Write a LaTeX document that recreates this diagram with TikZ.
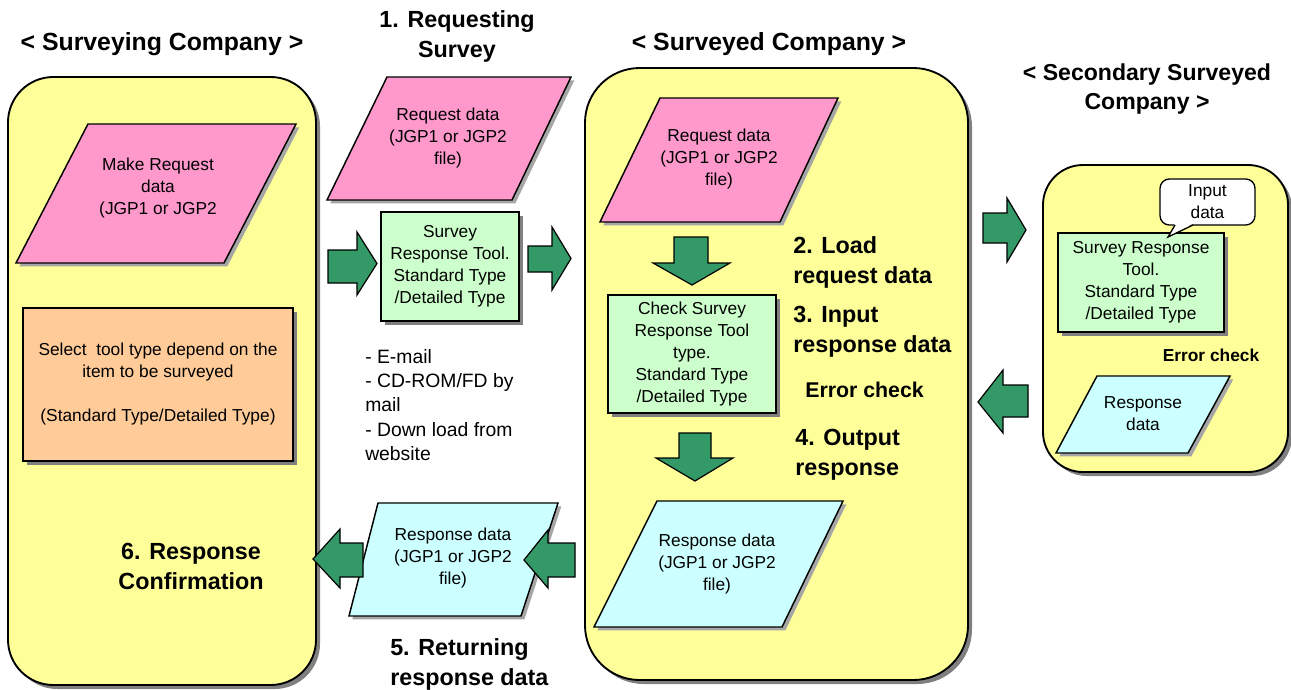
\documentclass[tikz,border=0pt]{standalone}
\usepackage{fontspec}
\setmainfont{Liberation Sans}
\usetikzlibrary{shadows}

\definecolor{companyyellow}{HTML}{FFFF99}
\definecolor{reqpink}{HTML}{FF99CC}
\definecolor{toolgreen}{HTML}{CCFFCC}
\definecolor{respcyan}{HTML}{CCFFFF}
\definecolor{selorange}{HTML}{FFCC99}
\definecolor{arrowgreen}{HTML}{339966}

\tikzset{
  company/.style={draw=black, line width=1.4pt, fill=companyyellow,
    drop shadow={shadow xshift=3pt, shadow yshift=-3pt, opacity=1, fill=black!50}},
  datashape/.style={draw=black, line width=1.1pt, line join=miter,
    drop shadow={shadow xshift=2.5pt, shadow yshift=-2.5pt, opacity=1, fill=black!35}},
  toolbox/.style={draw=black, line width=1.1pt, fill=toolgreen, align=center, inner sep=0pt,
    font=\fontsize{13}{16.5}\selectfont,
    drop shadow={shadow xshift=3pt, shadow yshift=-3pt, opacity=1, fill=black!50}},
  blockarrow/.style={draw=black, line width=0.9pt, fill=arrowgreen, line join=miter},
  txt/.style={align=center, inner sep=0pt, font=\fontsize{13}{16.5}\selectfont},
  heading/.style={inner sep=0pt, anchor=base, font=\fontsize{18.6}{23}\selectfont\bfseries},
  steplabel/.style={inner sep=0pt, anchor=west, align=left, font=\fontsize{17.5}{22.5}\selectfont\bfseries}
}

\begin{document}
\begin{tikzpicture}[x=0.75pt, y=-0.75pt]
  \useasboundingbox (0,0) rectangle (1291,689);
  \fill[white] (0,0) rectangle (1291,689);

  % the three companies
  \filldraw[company, rounded corners=34pt] (8,77) rectangle (316,685);
  \filldraw[company, rounded corners=41pt] (585,68) rectangle (968,680);
  \filldraw[company, rounded corners=30pt] (1043,165) rectangle (1288,472);

  \node[heading] (hsurveying) at (162,50) {< Surveying Company >};
  \node[heading] (hsurveyed) at (769,50) {< Surveyed Company >};
  \node[heading, anchor=center, align=center, font=\fontsize{17.3}{21.75}\selectfont\bfseries] (hsecondary) at (1147,89) {< Secondary Surveyed\\Company >};

  % surveying company
  \filldraw[datashape, fill=reqpink] (88,124) -- (296,124) -- (224,263) -- (16,263) -- cycle;
  \node[txt] (makereq) at (158,188) {Make Request\\data\\(JGP1 or JGP2};
  \node[toolbox, fill=selorange, minimum width=202.5pt, minimum height=114.75pt] (select) at (158,384.5)
    {Select~ tool type depend on the\\item to be surveyed\\\mbox{}\\(Standard Type/Detailed Type)};
  \node[steplabel, anchor=center, align=center] (confirm) at (191,566) {6. Response\\Confirmation};

  % requesting survey
  \node[steplabel, anchor=center, align=center] (requesting) at (457,36) {1. Requesting\\Survey};
  \filldraw[datashape, fill=reqpink] (387,77) -- (571,77) -- (512,200) -- (327,200) -- cycle;
  \node[txt] (reqsent) at (448,138) {Request data\\(JGP1 or JGP2\\file)};
  \node[toolbox, minimum width=103.5pt, minimum height=81.75pt] (tool) at (450,266.5)
    {Survey\\Response Tool.\\Standard Type\\/Detailed Type};
  \filldraw[blockarrow] (328,250) -- (357,250) -- (357,232) -- (377,263.5) -- (357,295) -- (357,283) -- (328,283) -- cycle;
  \filldraw[blockarrow] (528,246) -- (552,246) -- (552,227) -- (571,258.5) -- (552,290) -- (552,272) -- (528,272) -- cycle;
  \node[inner sep=0pt, anchor=west, align=left, font=\fontsize{14.5}{18.2}\selectfont] (channels) at (365,405)
    {- E-mail\\- CD-ROM/FD by\\mail\\- Down load from\\website};

  % returning response data
  \filldraw[datashape, fill=respcyan] (378,503) -- (558,503) -- (521,616) -- (349,616) -- cycle;
  \node[txt] (respsent) at (453,558) {Response data\\(JGP1 or JGP2\\file)};
  \filldraw[blockarrow] (363,543) -- (340,543) -- (340,529) -- (313,559) -- (340,588) -- (340,577) -- (363,577) -- cycle;
  \filldraw[blockarrow] (575,543) -- (548,543) -- (548,530) -- (524,560) -- (548,588) -- (548,577) -- (575,577) -- cycle;
  \node[steplabel] (returning) at (390,664) {5. Returning\\response data};

  % surveyed company
  \filldraw[datashape, fill=reqpink] (660,98) -- (838,98) -- (780,222) -- (600,222) -- cycle;
  \node[txt] (reqload) at (719,159) {Request data\\(JGP1 or JGP2\\file)};
  \filldraw[blockarrow] (674,237) -- (708,237) -- (708,263) -- (730,263) -- (692,285) -- (653,263) -- (674,263) -- cycle;
  \node[toolbox, minimum width=126pt, minimum height=88.5pt] (check) at (692,354)
    {Check Survey\\Response Tool\\type.\\Standard Type\\/Detailed Type};
  \node[steplabel] (load) at (793,262) {2. Load\\request data};
  \node[steplabel] (input) at (793,332) {3. Input\\response data};
  \node[steplabel, font=\fontsize{16}{20}\selectfont\bfseries] (errmid) at (805,390) {Error check};
  \node[steplabel] (output) at (795,455) {4. Output\\response};
  \filldraw[blockarrow] (679,433) -- (711,433) -- (711,458) -- (733,458) -- (695,481) -- (656,458) -- (679,458) -- cycle;
  \filldraw[datashape, fill=respcyan] (657,501) -- (843,501) -- (782,627) -- (594,627) -- cycle;
  \node[txt] (respout) at (717,564) {Response data\\(JGP1 or JGP2\\file)};

  % secondary surveyed company
  \filldraw[blockarrow] (983,213) -- (1007,213) -- (1007,198) -- (1026,230) -- (1007,262) -- (1007,243) -- (983,243) -- cycle;
  \filldraw[blockarrow] (1028,385) -- (1003,385) -- (1003,370) -- (978,402) -- (1003,433) -- (1003,417) -- (1028,417) -- cycle;
  \node[toolbox, minimum width=124.5pt, minimum height=74.25pt] (tool2) at (1141,282.5)
    {Survey Response\\Tool.\\Standard Type\\/Detailed Type};
  \node[txt, draw=black, line width=1pt, fill=white, rounded corners=7pt,
    minimum width=71.25pt, minimum height=34.5pt] (inputdata) at (1207.5,202) {Input\\data};
  \fill[white] (1175,223.6) -- (1168,237) -- (1193,223.6) -- cycle;
  \draw[line width=1pt, line join=miter] (1175,225) -- (1168,237) -- (1193,225);
  \node[font=\fontsize{13}{16}\selectfont\bfseries, inner sep=0pt] (errsec) at (1211,355) {Error check};
  \filldraw[datashape, fill=respcyan] (1097,376) -- (1230,376) -- (1188,453) -- (1056,453) -- cycle;
  \node[txt] (resp2) at (1143,414) {Response\\data};
\end{tikzpicture}
\end{document}
